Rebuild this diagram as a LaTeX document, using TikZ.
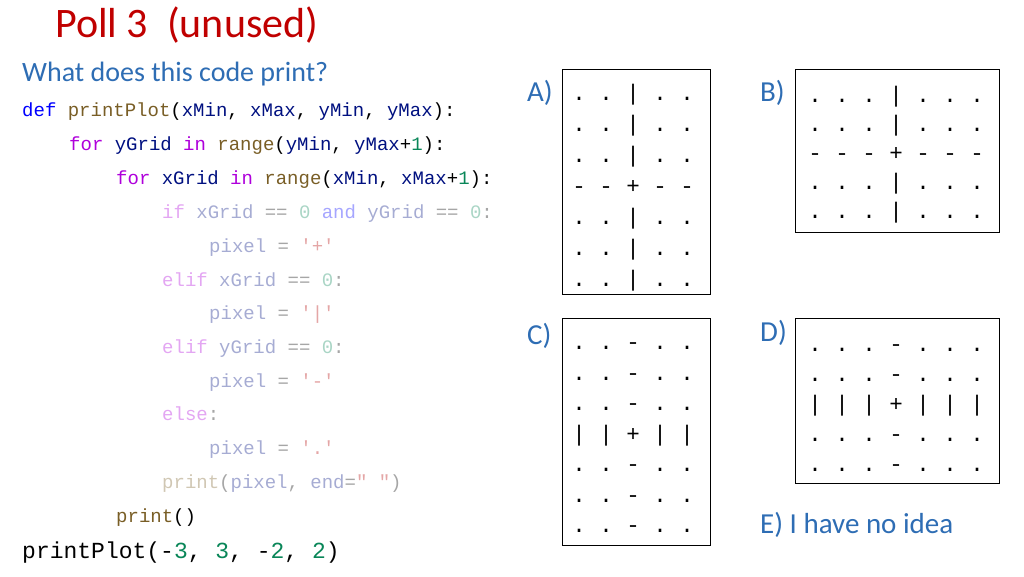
\documentclass[tikz,border=0pt]{standalone}
\usepackage{fontspec}
\setmainfont{Carlito}
\setmonofont{Liberation Mono}
\usetikzlibrary{positioning}
\definecolor{titlered}{HTML}{C00000}
\definecolor{headblue}{HTML}{2E6DB4}
\definecolor{kwblue}{HTML}{0000FF}
\definecolor{fnbrown}{HTML}{795E26}
\definecolor{parblue}{HTML}{001080}
\definecolor{kwpurple}{HTML}{AF00DB}
\definecolor{numgreen}{HTML}{098658}
\newcommand{\cfs}{\fontsize{19}{19}\selectfont\ttfamily}
\tikzset{
  codeline/.style={anchor=base west, inner sep=0pt, font=\cfs},
  faded/.style={codeline, opacity=0.35},
  answerbox/.style={draw, thick, anchor=north west, inner sep=0pt},
  boxrow/.style={anchor=base, inner sep=0pt, font=\fontsize{22.5}{22.5}\selectfont\ttfamily},
  optlabel/.style={anchor=base west, inner sep=0pt, text=headblue, font=\fontsize{29}{29}\selectfont}
}
\begin{document}
\begin{tikzpicture}[x=1pt, y=-1pt]
    \useasboundingbox (0,0) rectangle (1024,576);
    % title and question
    \node[anchor=base west, inner sep=0pt, text=titlered, font=\fontsize{42}{42}\selectfont] (title) at (55,37) {Poll 3\ \ (unused)};
    \node[anchor=base west, inner sep=0pt, text=headblue, font=\fontsize{28}{28}\selectfont] (question) at (22,81) {What does this code print?};
    % code
    \node[codeline] (c1) at (22,116) {\textcolor{kwblue}{def} \textcolor{fnbrown}{printPlot}(\textcolor{parblue}{xMin}, \textcolor{parblue}{xMax}, \textcolor{parblue}{yMin}, \textcolor{parblue}{yMax}):};
    \node[codeline] (c2) at (69,150) {\textcolor{kwpurple}{for} \textcolor{parblue}{yGrid} \textcolor{kwpurple}{in} \textcolor{fnbrown}{range}(\textcolor{parblue}{yMin}, \textcolor{parblue}{yMax}+\textcolor{numgreen}{1}):};
    \node[codeline] (c3) at (116,184) {\textcolor{kwpurple}{for} \textcolor{parblue}{xGrid} \textcolor{kwpurple}{in} \textcolor{fnbrown}{range}(\textcolor{parblue}{xMin}, \textcolor{parblue}{xMax}+\textcolor{numgreen}{1}):};
    \node[faded] (c4) at (162,218) {\textcolor{kwpurple}{if} \textcolor{parblue}{xGrid} == \textcolor{numgreen}{0} \textcolor{kwblue}{and} \textcolor{parblue}{yGrid} == \textcolor{numgreen}{0}:};
    \node[faded] (c5) at (209,252) {\textcolor{parblue}{pixel} = \textcolor{red!70!black}{'+'}};
    \node[faded] (c6) at (162,286) {\textcolor{kwpurple}{elif} \textcolor{parblue}{xGrid} == \textcolor{numgreen}{0}:};
    \node[faded] (c7) at (209,319) {\textcolor{parblue}{pixel} = \textcolor{red!70!black}{'|'}};
    \node[faded] (c8) at (162,353) {\textcolor{kwpurple}{elif} \textcolor{parblue}{yGrid} == \textcolor{numgreen}{0}:};
    \node[faded] (c9) at (209,387) {\textcolor{parblue}{pixel} = \textcolor{red!70!black}{'-'}};
    \node[faded] (c10) at (162,420) {\textcolor{kwpurple}{else}:};
    \node[faded] (c11) at (209,454) {\textcolor{parblue}{pixel} = \textcolor{red!70!black}{'.'}};
    \node[faded] (c12) at (162,488) {\textcolor{fnbrown}{print}(\textcolor{parblue}{pixel}, \textcolor{parblue}{end}=\textcolor{red!70!black}{" "})};
    \node[codeline] (c13) at (116,522) {\textcolor{fnbrown}{print}()};
    \node[codeline, font=\fontsize{23}{23}\selectfont\ttfamily] (c14) at (22,558) {printPlot(-\textcolor{numgreen}{3}, \textcolor{numgreen}{3}, -\textcolor{numgreen}{2}, \textcolor{numgreen}{2})};
    % answer boxes
    \node[answerbox, minimum width=148, minimum height=225] (boxA) at (562,69) {};
    \node[answerbox, minimum width=204, minimum height=163] (boxB) at (795,69) {};
    \node[answerbox, minimum width=148, minimum height=227] (boxC) at (562,318) {};
    \node[answerbox, minimum width=204, minimum height=165] (boxD) at (795,318) {};
    \node[optlabel] (labA) at (527,101) {A)};
    \node[optlabel] (labB) at (760,101) {B)};
    \node[optlabel] (labC) at (527,344) {C)};
    \node[optlabel] (labD) at (760,341) {D)};
    \node[optlabel] (labE) at (760,533) {E) I have no idea};
    % box A rows
    \foreach \r/\t in {1/{. . | . .},2/{. . | . .},3/{. . | . .},4/{- - + - -},5/{. . | . .},6/{. . | . .},7/{. . | . .}}
        \node[boxrow] (rowA\r) at (633,69+31*\r) {\t};
    % box B rows
    \foreach \r/\t in {1/{. . . | . . .},2/{. . . | . . .},3/{- - - + - - -},4/{. . . | . . .},5/{. . . | . . .}}
        \node[boxrow] (rowB\r) at (896,73+29*\r) {\t};
    % box C rows
    \foreach \r/\t in {1/{. . - . .},2/{. . - . .},3/{. . - . .},4/{| | + | |},5/{. . - . .},6/{. . - . .},7/{. . - . .}}
        \node[boxrow] (rowC\r) at (633,319+30.5*\r) {\t};
    % box D rows
    \foreach \r/\t in {1/{. . . - . . .},2/{. . . - . . .},3/{| | | + | | |},4/{. . . - . . .},5/{. . . - . . .}}
        \node[boxrow] (rowD\r) at (896,321+30*\r) {\t};
\end{tikzpicture}
\end{document}
